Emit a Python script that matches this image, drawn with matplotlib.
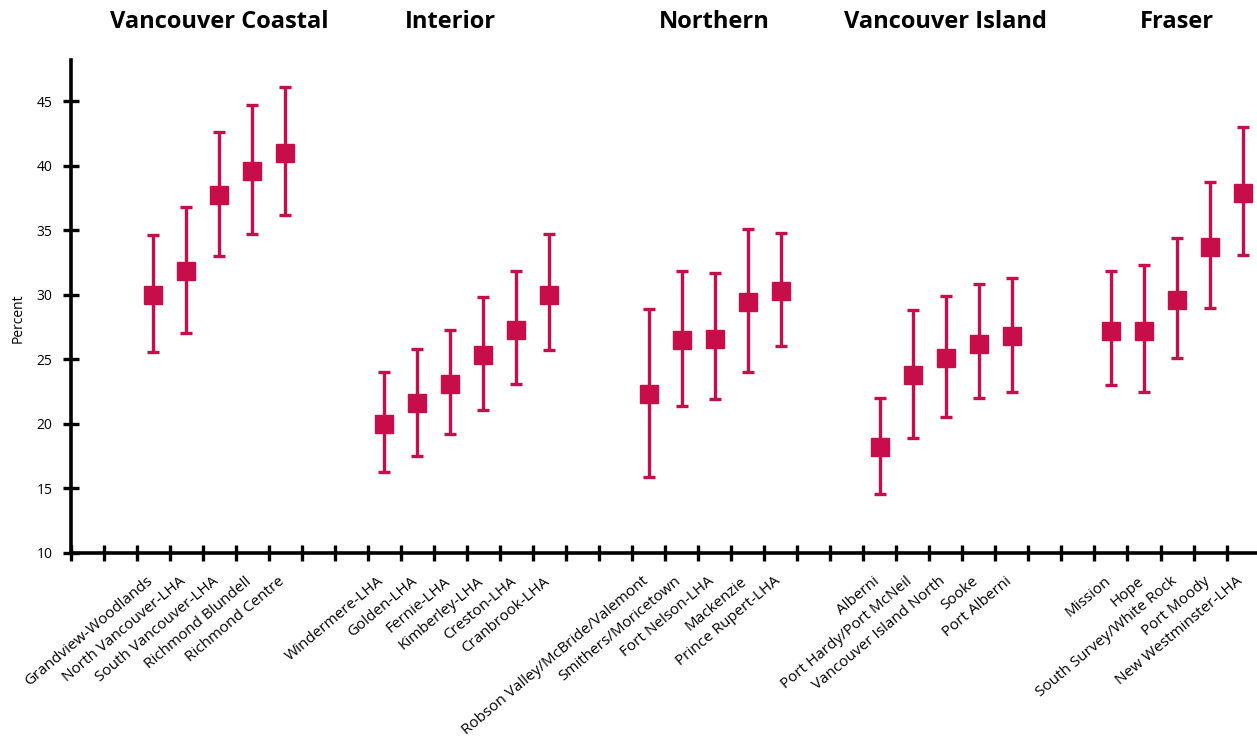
import matplotlib.pyplot as plt
from matplotlib.transforms import blended_transform_factory, ScaledTranslation

plt.rcParams['font.family'] = ['Open Sans', 'DejaVu Sans']

# health authority regions and local health areas
regions = ['Vancouver Coastal', 'Interior', 'Northern', 'Vancouver Island', 'Fraser']

vc_names = ['Grandview-Woodlands', 'North Vancouver-LHA', 'South Vancouver-LHA',
            'Richmond Blundell', 'Richmond Centre']
vc_est = [30.0, 31.8, 37.7, 39.6, 41.0]
vc_lo = [25.6, 27.0, 33.0, 34.7, 36.2]
vc_hi = [34.6, 36.8, 42.6, 44.7, 46.1]

int_names = ['Windermere-LHA', 'Golden-LHA', 'Fernie-LHA', 'Kimberley-LHA',
             'Creston-LHA', 'Cranbrook-LHA']
int_est = [20.0, 21.6, 23.1, 25.3, 27.3, 30.0]
int_lo = [16.3, 17.5, 19.2, 21.1, 23.1, 25.7]
int_hi = [24.0, 25.8, 27.3, 29.8, 31.8, 34.7]

nor_names = ['Robson Valley/McBride/Valemont', 'Smithers/Moricetown',
             'Fort Nelson-LHA', 'Mackenzie', 'Prince Rupert-LHA']
nor_est = [22.3, 26.5, 26.6, 29.4, 30.3]
nor_lo = [15.9, 21.4, 21.9, 24.0, 26.0]
nor_hi = [28.9, 31.8, 31.7, 35.1, 34.8]

vi_names = ['Alberni', 'Port Hardy/Port McNeil', 'Vancouver Island North',
            'Sooke', 'Port Alberni']
vi_est = [18.2, 23.8, 25.1, 26.2, 26.8]
vi_lo = [14.6, 18.9, 20.5, 22.0, 22.5]
vi_hi = [22.0, 28.8, 29.9, 30.8, 31.3]

fr_names = ['Mission', 'Hope', 'South Survey/White Rock', 'Port Moody',
            'New Westminster-LHA']
fr_est = [27.2, 27.2, 29.6, 33.7, 37.9]
fr_lo = [23.0, 22.5, 25.1, 29.0, 33.1]
fr_hi = [31.8, 32.3, 34.4, 38.7, 43.0]

groups = [
    (vc_names, vc_est, vc_lo, vc_hi),
    (int_names, int_est, int_lo, int_hi),
    (nor_names, nor_est, nor_lo, nor_hi),
    (vi_names, vi_est, vi_lo, vi_hi),
    (fr_names, fr_est, fr_lo, fr_hi),
]

red = '#C70D4A'

fig = plt.figure(figsize=(12.57, 7.4), dpi=100)
ax = fig.add_axes([70.5 / 1257, 1 - 553 / 740, 0.946, 0.6666])

names_all, pos_all, title_pos = [], [], []
slot = 2
for names, est, lo, hi in groups:
    pos = [slot + i + 0.5 for i in range(len(names))]
    yerr = [[e - l for e, l in zip(est, lo)], [h - e for e, h in zip(est, hi)]]
    ax.errorbar(pos, est, yerr=yerr, fmt='s', color=red, ms=12.5,
                elinewidth=2.4, capsize=4.5, capthick=2.4, zorder=3)
    names_all += names
    pos_all += pos
    title_pos.append(sum(pos[:5]) / 5)
    slot += len(names) + 2

ax.set_xlim(0, 36)
ax.set_ylim(10, 48.2)
ax.set_yticks(range(10, 50, 5))
ax.set_xticks(range(0, 37))
ax.set_xticklabels([])
ax.set_xticks(pos_all, minor=True)
ax.set_xticklabels(names_all, minor=True, rotation=40, ha='right',
                   rotation_mode='anchor', fontsize=11)

for s in ['top', 'right']:
    ax.spines[s].set_visible(False)
for s in ['left', 'bottom']:
    ax.spines[s].set_linewidth(2.6)

ax.tick_params(axis='both', which='major', direction='inout', length=12,
               width=2.4, labelsize=10, pad=7)
ax.tick_params(axis='x', which='minor', length=0, pad=15)

# nudge the slanted labels a little to the left
shift = ScaledTranslation(-7 / 100, 0, fig.dpi_scale_trans)
for lbl in ax.get_xticklabels(minor=True):
    lbl.set_transform(lbl.get_transform() + shift)

trans = blended_transform_factory(ax.transData, fig.transFigure)
for name, x in zip(regions, title_pos):
    ax.text(x, 1 - 22 / 740, name, transform=trans, ha='center', va='center',
            fontsize=17, fontweight='bold', clip_on=False)

fig.text(18 / 1257, 1 - 318 / 740, 'Percent', rotation=90, ha='center',
         va='center', fontsize=10)

fig.savefig('out.png', dpi=100)
